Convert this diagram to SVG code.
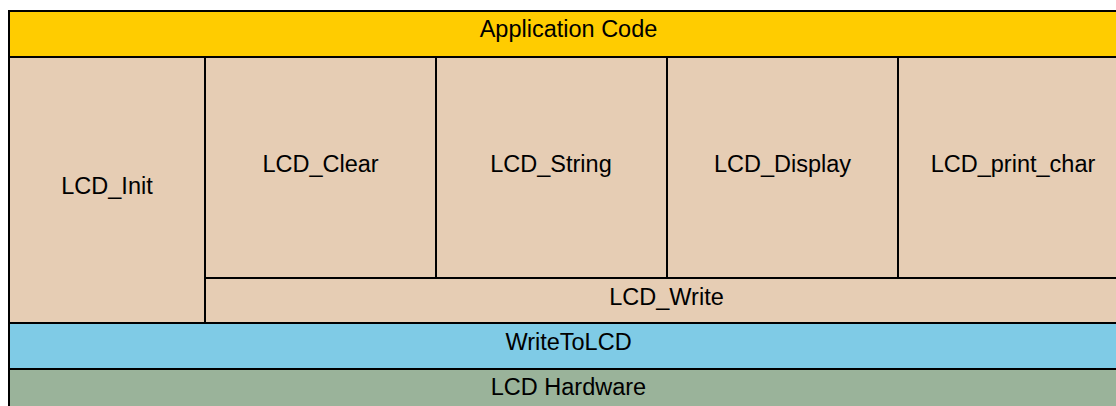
<svg xmlns="http://www.w3.org/2000/svg" width="1116" height="406" viewBox="0 0 1116 406">
  <style>
    .cell { stroke: #000; stroke-width: 2; }
    .app { fill: #FFCC00; }
    .drv { fill: #E6CDB4; }
    .low { fill: #7FCBE6; }
    .hw { fill: #9AB39A; }
    text { font-family: "Liberation Sans", Arial, Helvetica, sans-serif; font-size: 23.5px; fill: #000; text-anchor: middle; }
  </style>
  <rect width="1116" height="406" fill="#FFFFFF"/>

  <!-- Layer stack: application on top, hardware at the bottom -->
  <g id="application-code">
    <rect class="cell app" x="9" y="11" width="1119" height="46"/>
    <text x="568.5" y="37">Application Code</text>
  </g>

  <g id="lcd-init">
    <rect class="cell drv" x="9" y="57" width="196" height="266"/>
    <text x="107" y="194">LCD_Init</text>
  </g>

  <g id="lcd-clear">
    <rect class="cell drv" x="205" y="57" width="231" height="221"/>
    <text x="320.5" y="172">LCD_Clear</text>
  </g>

  <g id="lcd-string">
    <rect class="cell drv" x="436" y="57" width="231" height="221"/>
    <text x="551" y="172">LCD_String</text>
  </g>

  <g id="lcd-display">
    <rect class="cell drv" x="667" y="57" width="231" height="221"/>
    <text x="782.5" y="172">LCD_Display</text>
  </g>

  <g id="lcd-print-char">
    <rect class="cell drv" x="898" y="57" width="230" height="221"/>
    <text x="1013" y="172">LCD_print_char</text>
  </g>

  <g id="lcd-write">
    <rect class="cell drv" x="205" y="278" width="923" height="45"/>
    <text x="666.5" y="305">LCD_Write</text>
  </g>

  <g id="write-to-lcd">
    <rect class="cell low" x="9" y="323" width="1119" height="46"/>
    <text x="568.5" y="350">WriteToLCD</text>
  </g>

  <g id="lcd-hardware">
    <rect class="cell hw" x="9" y="369" width="1119" height="46"/>
    <text x="568.5" y="395">LCD Hardware</text>
  </g>

  <g id="connectors"/>
</svg>
